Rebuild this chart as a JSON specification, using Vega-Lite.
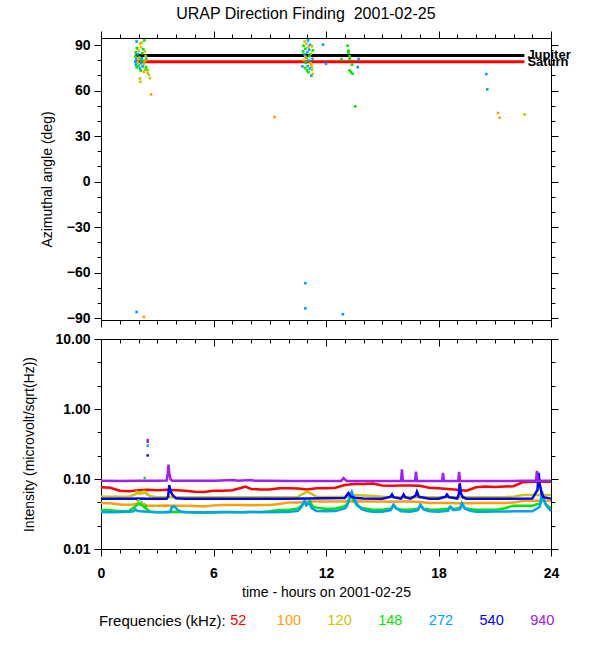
{
  "$schema": "https://vega.github.io/schema/vega-lite/v6.json",
  "background": "white",
  "padding": {"left": 22, "top": 5, "right": 5, "bottom": 5},
  "title": {"text": "URAP Direction Finding \u00a02001-02-25", "fontSize": 16, "fontWeight": "normal", "font": "Liberation Sans", "color": "black", "anchor": "middle", "offset": 9, "dx": 9},
  "spacing": 4,
  "datasets": {
    "planets": [
      {"name": "Jupiter", "t0": 1.83, "t1": 22.58, "a": 83.2},
      {"name": "Saturn", "t0": 1.83, "t1": 22.58, "a": 79.1}
    ],
    "angles": [
      {"t": 1.90, "a": 92.4, "f": "272"}, {"t": 2.31, "a": 93.1, "f": "148"}, {"t": 2.08, "a": 90.9, "f": "120"},
      {"t": 2.17, "a": 91.5, "f": "120"}, {"t": 1.92, "a": 88.0, "f": "148"}, {"t": 2.13, "a": 88.6, "f": "120"},
      {"t": 2.26, "a": 87.3, "f": "148"}, {"t": 2.00, "a": 86.4, "f": "120"}, {"t": 1.85, "a": 85.2, "f": "148"},
      {"t": 1.97, "a": 84.1, "f": "272"}, {"t": 2.20, "a": 84.6, "f": "148"}, {"t": 2.33, "a": 85.8, "f": "120"},
      {"t": 1.84, "a": 82.5, "f": "148"}, {"t": 2.05, "a": 82.0, "f": "148"}, {"t": 2.38, "a": 82.8, "f": "120"},
      {"t": 1.88, "a": 80.6, "f": "272"}, {"t": 2.10, "a": 80.2, "f": "148"}, {"t": 2.25, "a": 79.5, "f": "148"},
      {"t": 2.42, "a": 80.9, "f": "148"}, {"t": 1.95, "a": 78.6, "f": "120"}, {"t": 2.15, "a": 78.0, "f": "272"},
      {"t": 2.30, "a": 77.8, "f": "120"}, {"t": 1.86, "a": 77.1, "f": "272"}, {"t": 2.02, "a": 76.5, "f": "148"},
      {"t": 2.22, "a": 76.0, "f": "272"}, {"t": 2.40, "a": 75.6, "f": "148"}, {"t": 1.90, "a": 75.3, "f": "148"},
      {"t": 2.07, "a": 74.6, "f": "272"}, {"t": 2.35, "a": 74.0, "f": "120"}, {"t": 2.43, "a": 73.8, "f": "148"},
      {"t": 2.12, "a": 73.2, "f": "148"}, {"t": 2.50, "a": 73.5, "f": "120"}, {"t": 2.48, "a": 71.8, "f": "120"},
      {"t": 2.56, "a": 70.5, "f": "120"}, {"t": 2.28, "a": 72.4, "f": "100"}, {"t": 2.61, "a": 68.2, "f": "120"},
      {"t": 2.08, "a": 68.0, "f": "120"}, {"t": 2.10, "a": 65.8, "f": "120"}, {"t": 2.67, "a": 57.5, "f": "100"},
      {"t": 2.00, "a": 81.5, "f": "100"}, {"t": 2.36, "a": 79.8, "f": "100"}, {"t": 1.83, "a": 79.0, "f": "272"},
      {"t": 2.18, "a": 81.2, "f": "272"},
      {"t": 10.86, "a": 92.4, "f": "120"}, {"t": 11.04, "a": 93.1, "f": "272"}, {"t": 10.95, "a": 91.0, "f": "120"},
      {"t": 11.15, "a": 90.2, "f": "272"}, {"t": 10.80, "a": 89.6, "f": "148"}, {"t": 11.05, "a": 88.8, "f": "120"},
      {"t": 11.25, "a": 89.2, "f": "120"}, {"t": 10.90, "a": 87.6, "f": "148"}, {"t": 11.10, "a": 87.0, "f": "272"},
      {"t": 11.30, "a": 86.5, "f": "148"}, {"t": 10.78, "a": 85.8, "f": "148"}, {"t": 11.00, "a": 85.2, "f": "272"},
      {"t": 11.20, "a": 84.4, "f": "120"}, {"t": 10.85, "a": 83.9, "f": "272"}, {"t": 11.12, "a": 82.8, "f": "148"},
      {"t": 10.96, "a": 81.6, "f": "148"}, {"t": 11.28, "a": 81.0, "f": "272"}, {"t": 10.82, "a": 80.2, "f": "120"},
      {"t": 11.08, "a": 79.8, "f": "272"}, {"t": 10.92, "a": 78.4, "f": "148"}, {"t": 11.18, "a": 78.0, "f": "120"},
      {"t": 10.74, "a": 76.0, "f": "272"}, {"t": 11.02, "a": 76.2, "f": "272"}, {"t": 11.24, "a": 75.8, "f": "120"},
      {"t": 10.88, "a": 75.0, "f": "148"}, {"t": 11.14, "a": 74.6, "f": "272"}, {"t": 10.98, "a": 73.4, "f": "148"},
      {"t": 11.26, "a": 73.8, "f": "120"}, {"t": 11.06, "a": 72.2, "f": "148"}, {"t": 11.22, "a": 69.8, "f": "272"},
      {"t": 11.30, "a": 71.0, "f": "120"}, {"t": 10.90, "a": 82.4, "f": "100"}, {"t": 11.20, "a": 77.0, "f": "100"},
      {"t": 11.84, "a": 90.3, "f": "272"}, {"t": 12.00, "a": 77.7, "f": "272"},
      {"t": 13.15, "a": 89.6, "f": "148"}, {"t": 13.20, "a": 86.3, "f": "148"}, {"t": 13.20, "a": 85.2, "f": "148"},
      {"t": 13.26, "a": 82.6, "f": "148"}, {"t": 12.82, "a": 80.8, "f": "148"}, {"t": 13.26, "a": 80.9, "f": "148"},
      {"t": 13.39, "a": 77.1, "f": "148"}, {"t": 13.26, "a": 73.3, "f": "148"}, {"t": 13.33, "a": 72.2, "f": "148"},
      {"t": 13.42, "a": 71.1, "f": "148"}, {"t": 13.56, "a": 49.6, "f": "148"}, {"t": 13.74, "a": 80.8, "f": "272"},
      {"t": 13.69, "a": 75.5, "f": "272"},
      {"t": 9.26, "a": 42.5, "f": "100"}, {"t": 20.55, "a": 70.9, "f": "272"}, {"t": 20.60, "a": 60.8, "f": "272"},
      {"t": 21.17, "a": 45.2, "f": "100"}, {"t": 21.26, "a": 42.1, "f": "100"}, {"t": 22.59, "a": 44.3, "f": "120"},
      {"t": 1.90, "a": -86.0, "f": "272"}, {"t": 2.29, "a": -89.3, "f": "100"}, {"t": 10.90, "a": -67.0, "f": "272"},
      {"t": 10.90, "a": -83.6, "f": "272"}, {"t": 12.90, "a": -87.5, "f": "272"}
    ],
    "intensity": [
      {"t": 0, "f": "52", "v": 0.076}, {"t": 0.5, "f": "52", "v": 0.075}, {"t": 1, "f": "52", "v": 0.068}, {"t": 1.5, "f": "52", "v": 0.067},
      {"t": 2, "f": "52", "v": 0.069}, {"t": 2.5, "f": "52", "v": 0.070}, {"t": 3, "f": "52", "v": 0.069}, {"t": 3.5, "f": "52", "v": 0.070},
      {"t": 4, "f": "52", "v": 0.069}, {"t": 4.5, "f": "52", "v": 0.068}, {"t": 5, "f": "52", "v": 0.066}, {"t": 5.5, "f": "52", "v": 0.065},
      {"t": 6, "f": "52", "v": 0.068}, {"t": 6.5, "f": "52", "v": 0.068}, {"t": 7, "f": "52", "v": 0.069}, {"t": 7.5, "f": "52", "v": 0.075},
      {"t": 7.7, "f": "52", "v": 0.078}, {"t": 8, "f": "52", "v": 0.072}, {"t": 8.5, "f": "52", "v": 0.071}, {"t": 9, "f": "52", "v": 0.071},
      {"t": 9.5, "f": "52", "v": 0.074}, {"t": 10, "f": "52", "v": 0.074}, {"t": 10.5, "f": "52", "v": 0.073}, {"t": 11, "f": "52", "v": 0.071},
      {"t": 11.5, "f": "52", "v": 0.074}, {"t": 12, "f": "52", "v": 0.074}, {"t": 12.5, "f": "52", "v": 0.075}, {"t": 13, "f": "52", "v": 0.082},
      {"t": 13.5, "f": "52", "v": 0.085}, {"t": 14, "f": "52", "v": 0.085}, {"t": 14.5, "f": "52", "v": 0.086}, {"t": 15, "f": "52", "v": 0.081},
      {"t": 15.5, "f": "52", "v": 0.080}, {"t": 16, "f": "52", "v": 0.081}, {"t": 16.5, "f": "52", "v": 0.081}, {"t": 17, "f": "52", "v": 0.080},
      {"t": 17.5, "f": "52", "v": 0.075}, {"t": 18, "f": "52", "v": 0.074}, {"t": 18.5, "f": "52", "v": 0.072}, {"t": 19, "f": "52", "v": 0.070},
      {"t": 19.5, "f": "52", "v": 0.068}, {"t": 20, "f": "52", "v": 0.076}, {"t": 20.5, "f": "52", "v": 0.078}, {"t": 21, "f": "52", "v": 0.077},
      {"t": 21.5, "f": "52", "v": 0.078}, {"t": 22, "f": "52", "v": 0.079}, {"t": 22.5, "f": "52", "v": 0.090}, {"t": 23, "f": "52", "v": 0.091},
      {"t": 23.5, "f": "52", "v": 0.091}, {"t": 24, "f": "52", "v": 0.091},

      {"t": 0, "f": "100", "v": 0.0454}, {"t": 0.5, "f": "100", "v": 0.0450}, {"t": 1, "f": "100", "v": 0.0432}, {"t": 1.5, "f": "100", "v": 0.0428},
      {"t": 2, "f": "100", "v": 0.0440}, {"t": 2.5, "f": "100", "v": 0.0416}, {"t": 3, "f": "100", "v": 0.0416}, {"t": 3.5, "f": "100", "v": 0.0418},
      {"t": 4, "f": "100", "v": 0.0416}, {"t": 4.5, "f": "100", "v": 0.0416}, {"t": 5, "f": "100", "v": 0.0410}, {"t": 5.5, "f": "100", "v": 0.0406},
      {"t": 6, "f": "100", "v": 0.0420}, {"t": 6.5, "f": "100", "v": 0.0425}, {"t": 7, "f": "100", "v": 0.0425}, {"t": 7.5, "f": "100", "v": 0.0425},
      {"t": 8, "f": "100", "v": 0.0422}, {"t": 8.5, "f": "100", "v": 0.0425}, {"t": 9, "f": "100", "v": 0.0425}, {"t": 9.5, "f": "100", "v": 0.0440},
      {"t": 10, "f": "100", "v": 0.0460}, {"t": 10.5, "f": "100", "v": 0.0460}, {"t": 11, "f": "100", "v": 0.0478}, {"t": 11.5, "f": "100", "v": 0.0478},
      {"t": 12, "f": "100", "v": 0.0478}, {"t": 12.5, "f": "100", "v": 0.0478}, {"t": 13, "f": "100", "v": 0.0478}, {"t": 13.5, "f": "100", "v": 0.0482},
      {"t": 14, "f": "100", "v": 0.0478}, {"t": 14.5, "f": "100", "v": 0.0478}, {"t": 15, "f": "100", "v": 0.0478}, {"t": 15.5, "f": "100", "v": 0.0475},
      {"t": 16, "f": "100", "v": 0.0478}, {"t": 16.5, "f": "100", "v": 0.0478}, {"t": 17, "f": "100", "v": 0.0470}, {"t": 17.5, "f": "100", "v": 0.0454},
      {"t": 18, "f": "100", "v": 0.0454}, {"t": 18.5, "f": "100", "v": 0.0454}, {"t": 19, "f": "100", "v": 0.0450}, {"t": 19.5, "f": "100", "v": 0.0450},
      {"t": 20, "f": "100", "v": 0.0454}, {"t": 20.5, "f": "100", "v": 0.0454}, {"t": 21, "f": "100", "v": 0.0454}, {"t": 21.5, "f": "100", "v": 0.0454},
      {"t": 22, "f": "100", "v": 0.0460}, {"t": 22.5, "f": "100", "v": 0.0490}, {"t": 23, "f": "100", "v": 0.0490}, {"t": 23.5, "f": "100", "v": 0.0490},
      {"t": 24, "f": "100", "v": 0.0490},

      {"t": 0, "f": "120", "v": 0.0564}, {"t": 0.5, "f": "120", "v": 0.0560}, {"t": 1, "f": "120", "v": 0.0558}, {"t": 1.5, "f": "120", "v": 0.0560},
      {"t": 1.8, "f": "120", "v": 0.0600}, {"t": 2.0, "f": "120", "v": 0.0640}, {"t": 2.2, "f": "120", "v": 0.0620}, {"t": 2.4, "f": "120", "v": 0.0640},
      {"t": 2.6, "f": "120", "v": 0.0570}, {"t": 3, "f": "120", "v": 0.0547}, {"t": 4, "f": "120", "v": 0.0547}, {"t": 5, "f": "120", "v": 0.0547},
      {"t": 6, "f": "120", "v": 0.0547}, {"t": 7, "f": "120", "v": 0.0550}, {"t": 8, "f": "120", "v": 0.0547}, {"t": 9, "f": "120", "v": 0.0550},
      {"t": 10, "f": "120", "v": 0.0550}, {"t": 10.5, "f": "120", "v": 0.0555}, {"t": 10.7, "f": "120", "v": 0.0600}, {"t": 10.9, "f": "120", "v": 0.0640},
      {"t": 11.0, "f": "120", "v": 0.0660}, {"t": 11.2, "f": "120", "v": 0.0620}, {"t": 11.4, "f": "120", "v": 0.0580}, {"t": 11.5, "f": "120", "v": 0.0560},
      {"t": 12, "f": "120", "v": 0.0555}, {"t": 12.5, "f": "120", "v": 0.0555}, {"t": 13, "f": "120", "v": 0.0555}, {"t": 13.5, "f": "120", "v": 0.0590},
      {"t": 14, "f": "120", "v": 0.0580}, {"t": 14.5, "f": "120", "v": 0.0570}, {"t": 15, "f": "120", "v": 0.0560}, {"t": 15.5, "f": "120", "v": 0.0550},
      {"t": 16, "f": "120", "v": 0.0547}, {"t": 17, "f": "120", "v": 0.0547}, {"t": 18, "f": "120", "v": 0.0547}, {"t": 19, "f": "120", "v": 0.0547},
      {"t": 20, "f": "120", "v": 0.0547}, {"t": 21, "f": "120", "v": 0.0547}, {"t": 21.5, "f": "120", "v": 0.0550}, {"t": 22, "f": "120", "v": 0.0560},
      {"t": 22.5, "f": "120", "v": 0.0590}, {"t": 23, "f": "120", "v": 0.0590}, {"t": 23.5, "f": "120", "v": 0.0590}, {"t": 24, "f": "120", "v": 0.0590},

      {"t": 0, "f": "148", "v": 0.0361}, {"t": 0.5, "f": "148", "v": 0.0358}, {"t": 1, "f": "148", "v": 0.0345}, {"t": 1.5, "f": "148", "v": 0.0350},
      {"t": 1.8, "f": "148", "v": 0.0400}, {"t": 2.0, "f": "148", "v": 0.0450}, {"t": 2.2, "f": "148", "v": 0.0420}, {"t": 2.4, "f": "148", "v": 0.0380},
      {"t": 2.6, "f": "148", "v": 0.0340}, {"t": 3, "f": "148", "v": 0.0335}, {"t": 3.5, "f": "148", "v": 0.0335}, {"t": 4, "f": "148", "v": 0.0340},
      {"t": 4.5, "f": "148", "v": 0.0335}, {"t": 5, "f": "148", "v": 0.0333}, {"t": 5.5, "f": "148", "v": 0.0330}, {"t": 6, "f": "148", "v": 0.0333},
      {"t": 6.5, "f": "148", "v": 0.0335}, {"t": 7, "f": "148", "v": 0.0335}, {"t": 7.5, "f": "148", "v": 0.0335}, {"t": 8, "f": "148", "v": 0.0338},
      {"t": 8.5, "f": "148", "v": 0.0335}, {"t": 9, "f": "148", "v": 0.0345}, {"t": 9.5, "f": "148", "v": 0.0360}, {"t": 10, "f": "148", "v": 0.0362},
      {"t": 10.5, "f": "148", "v": 0.0380}, {"t": 10.7, "f": "148", "v": 0.0420}, {"t": 10.85, "f": "148", "v": 0.0480}, {"t": 11.0, "f": "148", "v": 0.0440},
      {"t": 11.15, "f": "148", "v": 0.0480}, {"t": 11.3, "f": "148", "v": 0.0400}, {"t": 11.5, "f": "148", "v": 0.0390}, {"t": 12, "f": "148", "v": 0.0372},
      {"t": 12.5, "f": "148", "v": 0.0380}, {"t": 13, "f": "148", "v": 0.0410}, {"t": 13.15, "f": "148", "v": 0.0450}, {"t": 13.3, "f": "148", "v": 0.0600},
      {"t": 13.45, "f": "148", "v": 0.0500}, {"t": 13.65, "f": "148", "v": 0.0420}, {"t": 13.9, "f": "148", "v": 0.0385}, {"t": 14.5, "f": "148", "v": 0.0365},
      {"t": 15, "f": "148", "v": 0.0365}, {"t": 15.5, "f": "148", "v": 0.0380}, {"t": 15.6, "f": "148", "v": 0.0420}, {"t": 15.75, "f": "148", "v": 0.0380},
      {"t": 16, "f": "148", "v": 0.0368}, {"t": 16.5, "f": "148", "v": 0.0365}, {"t": 16.95, "f": "148", "v": 0.0380}, {"t": 17.05, "f": "148", "v": 0.0420},
      {"t": 17.2, "f": "148", "v": 0.0375}, {"t": 17.5, "f": "148", "v": 0.0368}, {"t": 18, "f": "148", "v": 0.0365}, {"t": 18.5, "f": "148", "v": 0.0375},
      {"t": 18.63, "f": "148", "v": 0.0400}, {"t": 18.8, "f": "148", "v": 0.0370}, {"t": 19.15, "f": "148", "v": 0.0390}, {"t": 19.25, "f": "148", "v": 0.0430},
      {"t": 19.4, "f": "148", "v": 0.0380}, {"t": 20, "f": "148", "v": 0.0365}, {"t": 20.5, "f": "148", "v": 0.0365}, {"t": 21, "f": "148", "v": 0.0365},
      {"t": 21.5, "f": "148", "v": 0.0380}, {"t": 22, "f": "148", "v": 0.0416}, {"t": 22.5, "f": "148", "v": 0.0416}, {"t": 23, "f": "148", "v": 0.0416},
      {"t": 23.45, "f": "148", "v": 0.0450}, {"t": 23.55, "f": "148", "v": 0.0550}, {"t": 23.7, "f": "148", "v": 0.0440}, {"t": 24, "f": "148", "v": 0.0380},

      {"t": 0, "f": "272", "v": 0.0338}, {"t": 0.5, "f": "272", "v": 0.0336}, {"t": 1, "f": "272", "v": 0.0338}, {"t": 1.5, "f": "272", "v": 0.0340},
      {"t": 1.75, "f": "272", "v": 0.0345}, {"t": 1.83, "f": "272", "v": 0.0370}, {"t": 1.95, "f": "272", "v": 0.0350}, {"t": 2.5, "f": "272", "v": 0.0340},
      {"t": 3, "f": "272", "v": 0.0336}, {"t": 3.5, "f": "272", "v": 0.0338}, {"t": 3.7, "f": "272", "v": 0.0338}, {"t": 3.78, "f": "272", "v": 0.0400},
      {"t": 3.9, "f": "272", "v": 0.0410}, {"t": 4.1, "f": "272", "v": 0.0360}, {"t": 4.3, "f": "272", "v": 0.0340}, {"t": 4.5, "f": "272", "v": 0.0338},
      {"t": 5, "f": "272", "v": 0.0336}, {"t": 5.5, "f": "272", "v": 0.0335}, {"t": 6, "f": "272", "v": 0.0336}, {"t": 6.5, "f": "272", "v": 0.0338},
      {"t": 7, "f": "272", "v": 0.0338}, {"t": 7.5, "f": "272", "v": 0.0336}, {"t": 8, "f": "272", "v": 0.0338}, {"t": 8.5, "f": "272", "v": 0.0338},
      {"t": 9, "f": "272", "v": 0.0336}, {"t": 9.5, "f": "272", "v": 0.0338}, {"t": 10, "f": "272", "v": 0.0338}, {"t": 10.5, "f": "272", "v": 0.0350},
      {"t": 10.7, "f": "272", "v": 0.0400}, {"t": 10.85, "f": "272", "v": 0.0480}, {"t": 10.95, "f": "272", "v": 0.0420}, {"t": 11.1, "f": "272", "v": 0.0460},
      {"t": 11.25, "f": "272", "v": 0.0380}, {"t": 11.5, "f": "272", "v": 0.0350}, {"t": 12, "f": "272", "v": 0.0345}, {"t": 12.5, "f": "272", "v": 0.0348},
      {"t": 13, "f": "272", "v": 0.0380}, {"t": 13.1, "f": "272", "v": 0.0400}, {"t": 13.25, "f": "272", "v": 0.0520}, {"t": 13.38, "f": "272", "v": 0.0650},
      {"t": 13.5, "f": "272", "v": 0.0520}, {"t": 13.7, "f": "272", "v": 0.0420}, {"t": 13.9, "f": "272", "v": 0.0370}, {"t": 14.2, "f": "272", "v": 0.0350},
      {"t": 14.5, "f": "272", "v": 0.0340}, {"t": 15, "f": "272", "v": 0.0340}, {"t": 15.45, "f": "272", "v": 0.0360}, {"t": 15.6, "f": "272", "v": 0.0430},
      {"t": 15.75, "f": "272", "v": 0.0380}, {"t": 16, "f": "272", "v": 0.0345}, {"t": 16.5, "f": "272", "v": 0.0340}, {"t": 16.9, "f": "272", "v": 0.0360},
      {"t": 17.03, "f": "272", "v": 0.0430}, {"t": 17.2, "f": "272", "v": 0.0370}, {"t": 17.5, "f": "272", "v": 0.0345}, {"t": 18, "f": "272", "v": 0.0340},
      {"t": 18.5, "f": "272", "v": 0.0350}, {"t": 18.63, "f": "272", "v": 0.0400}, {"t": 18.8, "f": "272", "v": 0.0360}, {"t": 19.15, "f": "272", "v": 0.0370},
      {"t": 19.25, "f": "272", "v": 0.0450}, {"t": 19.4, "f": "272", "v": 0.0380}, {"t": 19.7, "f": "272", "v": 0.0350}, {"t": 20, "f": "272", "v": 0.0340},
      {"t": 20.5, "f": "272", "v": 0.0340}, {"t": 21, "f": "272", "v": 0.0342}, {"t": 21.5, "f": "272", "v": 0.0342}, {"t": 22, "f": "272", "v": 0.0345},
      {"t": 22.5, "f": "272", "v": 0.0345}, {"t": 23, "f": "272", "v": 0.0345}, {"t": 23.4, "f": "272", "v": 0.0400}, {"t": 23.52, "f": "272", "v": 0.0660},
      {"t": 23.65, "f": "272", "v": 0.0480}, {"t": 23.8, "f": "272", "v": 0.0400}, {"t": 24, "f": "272", "v": 0.0350},

      {"t": 0, "f": "540", "v": 0.0524}, {"t": 0.5, "f": "540", "v": 0.0522}, {"t": 1, "f": "540", "v": 0.0524}, {"t": 1.5, "f": "540", "v": 0.0524},
      {"t": 2, "f": "540", "v": 0.0526}, {"t": 2.5, "f": "540", "v": 0.0524}, {"t": 3, "f": "540", "v": 0.0522}, {"t": 3.5, "f": "540", "v": 0.0524},
      {"t": 3.58, "f": "540", "v": 0.056}, {"t": 3.64, "f": "540", "v": 0.082}, {"t": 3.7, "f": "540", "v": 0.068}, {"t": 3.8, "f": "540", "v": 0.060},
      {"t": 3.9, "f": "540", "v": 0.056}, {"t": 4.0, "f": "540", "v": 0.053}, {"t": 4.5, "f": "540", "v": 0.0524}, {"t": 5, "f": "540", "v": 0.0524},
      {"t": 6, "f": "540", "v": 0.0522}, {"t": 7, "f": "540", "v": 0.0524}, {"t": 8, "f": "540", "v": 0.0524}, {"t": 9, "f": "540", "v": 0.0522},
      {"t": 10, "f": "540", "v": 0.0524}, {"t": 11, "f": "540", "v": 0.0526}, {"t": 12, "f": "540", "v": 0.0530}, {"t": 13, "f": "540", "v": 0.0535},
      {"t": 13.1, "f": "540", "v": 0.058}, {"t": 13.2, "f": "540", "v": 0.063}, {"t": 13.3, "f": "540", "v": 0.057}, {"t": 13.5, "f": "540", "v": 0.054},
      {"t": 14, "f": "540", "v": 0.0526}, {"t": 15, "f": "540", "v": 0.0524}, {"t": 15.45, "f": "540", "v": 0.056}, {"t": 15.52, "f": "540", "v": 0.060},
      {"t": 15.6, "f": "540", "v": 0.055}, {"t": 16, "f": "540", "v": 0.0524}, {"t": 16.08, "f": "540", "v": 0.056}, {"t": 16.14, "f": "540", "v": 0.060},
      {"t": 16.22, "f": "540", "v": 0.055}, {"t": 16.5, "f": "540", "v": 0.0524}, {"t": 16.78, "f": "540", "v": 0.058}, {"t": 16.85, "f": "540", "v": 0.066},
      {"t": 16.95, "f": "540", "v": 0.056}, {"t": 17.5, "f": "540", "v": 0.0524}, {"t": 18, "f": "540", "v": 0.0524}, {"t": 18.38, "f": "540", "v": 0.056},
      {"t": 18.45, "f": "540", "v": 0.060}, {"t": 18.55, "f": "540", "v": 0.055}, {"t": 19.0, "f": "540", "v": 0.0526}, {"t": 19.08, "f": "540", "v": 0.060},
      {"t": 19.13, "f": "540", "v": 0.087}, {"t": 19.2, "f": "540", "v": 0.062}, {"t": 19.3, "f": "540", "v": 0.055}, {"t": 19.5, "f": "540", "v": 0.0524},
      {"t": 20, "f": "540", "v": 0.0524}, {"t": 21, "f": "540", "v": 0.0524}, {"t": 22, "f": "540", "v": 0.0524}, {"t": 23, "f": "540", "v": 0.0526},
      {"t": 23.28, "f": "540", "v": 0.070}, {"t": 23.34, "f": "540", "v": 0.122}, {"t": 23.4, "f": "540", "v": 0.085}, {"t": 23.5, "f": "540", "v": 0.062},
      {"t": 23.6, "f": "540", "v": 0.055}, {"t": 24, "f": "540", "v": 0.0524},

      {"t": 0, "f": "940", "v": 0.0946}, {"t": 1, "f": "940", "v": 0.0940}, {"t": 2, "f": "940", "v": 0.0946}, {"t": 3, "f": "940", "v": 0.0946},
      {"t": 3.5, "f": "940", "v": 0.0950}, {"t": 3.56, "f": "940", "v": 0.120}, {"t": 3.6, "f": "940", "v": 0.160}, {"t": 3.64, "f": "940", "v": 0.125},
      {"t": 3.7, "f": "940", "v": 0.100}, {"t": 3.8, "f": "940", "v": 0.0946}, {"t": 5, "f": "940", "v": 0.0946}, {"t": 6, "f": "940", "v": 0.0946},
      {"t": 7.1, "f": "940", "v": 0.0970}, {"t": 7.3, "f": "940", "v": 0.0946}, {"t": 8.0, "f": "940", "v": 0.0970}, {"t": 8.2, "f": "940", "v": 0.0946},
      {"t": 9, "f": "940", "v": 0.0946}, {"t": 10, "f": "940", "v": 0.0940}, {"t": 10.8, "f": "940", "v": 0.0935}, {"t": 12, "f": "940", "v": 0.0935},
      {"t": 12.8, "f": "940", "v": 0.0935}, {"t": 12.94, "f": "940", "v": 0.1030}, {"t": 13.1, "f": "940", "v": 0.0935}, {"t": 14, "f": "940", "v": 0.0935},
      {"t": 15, "f": "940", "v": 0.0940}, {"t": 16.0, "f": "940", "v": 0.0940}, {"t": 16.05, "f": "940", "v": 0.137}, {"t": 16.1, "f": "940", "v": 0.0940},
      {"t": 16.75, "f": "940", "v": 0.0940}, {"t": 16.8, "f": "940", "v": 0.127}, {"t": 16.85, "f": "940", "v": 0.0940}, {"t": 18.19, "f": "940", "v": 0.0935},
      {"t": 18.24, "f": "940", "v": 0.122}, {"t": 18.29, "f": "940", "v": 0.0935}, {"t": 19.05, "f": "940", "v": 0.0935}, {"t": 19.1, "f": "940", "v": 0.126},
      {"t": 19.15, "f": "940", "v": 0.0935}, {"t": 20, "f": "940", "v": 0.0935}, {"t": 21, "f": "940", "v": 0.0935}, {"t": 22, "f": "940", "v": 0.0935},
      {"t": 22.5, "f": "940", "v": 0.0946}, {"t": 23.2, "f": "940", "v": 0.0946}, {"t": 23.25, "f": "940", "v": 0.131}, {"t": 23.3, "f": "940", "v": 0.0946},
      {"t": 24, "f": "940", "v": 0.0946}
    ],
    "dots": [
      {"t": 2.49, "f": "940", "v": 0.36}, {"t": 2.49, "f": "940", "v": 0.34}, {"t": 2.49, "f": "272", "v": 0.30},
      {"t": 2.49, "f": "540", "v": 0.217}, {"t": 2.33, "f": "148", "v": 0.103},
      {"t": 1.9, "f": "120", "v": 0.066}, {"t": 2.05, "f": "120", "v": 0.061}, {"t": 2.3, "f": "120", "v": 0.067},
      {"t": 2.45, "f": "120", "v": 0.060}, {"t": 2.0, "f": "148", "v": 0.050}, {"t": 2.15, "f": "148", "v": 0.046},
      {"t": 2.3, "f": "100", "v": 0.044}, {"t": 1.95, "f": "100", "v": 0.048}, {"t": 2.4, "f": "148", "v": 0.041}
    ],
    "freqs": [
      {"f": "52"}, {"f": "100"}, {"f": "120"}, {"f": "148"}, {"f": "272"}, {"f": "540"}, {"f": "940"}
    ]
  },
  "vconcat": [
    {
      "width": 450,
      "height": 282,
      "layer": [
        {
          "data": {"name": "planets"},
          "mark": {"type": "rule", "strokeWidth": 3},
          "encoding": {
            "x": {"field": "t0", "type": "quantitative", "scale": {"domain": [0, 24], "nice": false},
              "axis": {"orient": "bottom", "values": [0,1,2,3,4,5,6,7,8,9,10,11,12,13,14,15,16,17,18,19,20,21,22,23,24], "labels": false, "title": null,
                "tickSize": {"condition": {"test": "datum.value % 6 === 0", "value": 7}, "value": 4}}},
            "x2": {"field": "t1"},
            "y": {"field": "a", "type": "quantitative", "scale": {"domain": [-91.3, 94.7], "nice": false, "zero": false},
              "axis": {"orient": "left", "values": [-90,-80,-70,-60,-50,-40,-30,-20,-10,0,10,20,30,40,50,60,70,80,90],
                "labelExpr": "datum.value % 30 === 0 ? datum.label : ''", "title": "Azimuthal angle (deg)", "titlePadding": 12,
                "tickSize": {"condition": {"test": "datum.value % 30 === 0", "value": 7}, "value": 4}}},
            "color": {"field": "name", "type": "nominal", "legend": null,
              "scale": {"domain": ["52","100","120","148","272","540","940","Jupiter","Saturn"],
                "range": ["#ff0000","#ffa000","#c8c800","#00e600","#00a0ff","#0000ff","#a020f0","#000000","#ff0000"]}}
          }
        },
        {
          "data": {"name": "angles"},
          "mark": {"type": "point", "shape": "square", "filled": true, "size": 7, "opacity": 1},
          "encoding": {
            "x": {"field": "t", "type": "quantitative", "scale": {"domain": [0, 24], "nice": false},
              "axis": {"orient": "top", "values": [0,1,2,3,4,5,6,7,8,9,10,11,12,13,14,15,16,17,18,19,20,21,22,23,24], "labels": false, "title": null,
                "tickSize": {"condition": {"test": "datum.value % 6 === 0", "value": 7}, "value": 4}}},
            "y": {"field": "a", "type": "quantitative", "scale": {"domain": [-91.3, 94.7], "nice": false, "zero": false},
              "axis": {"orient": "right", "values": [-90,-80,-70,-60,-50,-40,-30,-20,-10,0,10,20,30,40,50,60,70,80,90], "labels": false, "title": null,
                "tickSize": {"condition": {"test": "datum.value % 30 === 0", "value": 7}, "value": 4}}},
            "color": {"field": "f", "type": "nominal", "legend": null,
              "scale": {"domain": ["52","100","120","148","272","540","940","Jupiter","Saturn"],
                "range": ["#ff0000","#ffa000","#c8c800","#00e600","#00a0ff","#0000ff","#a020f0","#000000","#ff0000"]}}
          }
        },
        {
          "data": {"name": "planets"},
          "mark": {"type": "text", "align": "left", "baseline": "middle", "dx": 3, "fontSize": 13, "fontWeight": "bold", "color": "black"},
          "encoding": {
            "x": {"field": "t1", "type": "quantitative", "axis": null},
            "y": {"field": "a", "type": "quantitative", "axis": null},
            "text": {"field": "name"}
          }
        }
      ],
      "resolve": {"axis": {"x": "independent", "y": "independent"}}
    },
    {
      "width": 450,
      "height": 210,
      "layer": [
        {
          "data": {"name": "intensity"},
          "mark": {"type": "line", "strokeWidth": 2.5},
          "encoding": {
            "x": {"field": "t", "type": "quantitative", "scale": {"domain": [0, 24], "nice": false},
              "axis": {"orient": "bottom", "values": [0,1,2,3,4,5,6,7,8,9,10,11,12,13,14,15,16,17,18,19,20,21,22,23,24],
                "labelExpr": "datum.value % 6 === 0 ? datum.label : ''", "labelPadding": 10, "title": "time - hours on 2001-02-25", "titlePadding": 5,
                "tickSize": {"condition": {"test": "datum.value % 6 === 0", "value": 7}, "value": 4}}},
            "y": {"field": "v", "type": "quantitative", "scale": {"type": "log", "domain": [0.01, 10], "nice": false},
              "axis": {"orient": "left", "values": [0.01, 0.021544, 0.046416, 0.1, 0.21544, 0.46416, 1, 2.1544, 4.6416, 10],
                "labelExpr": "indexof([0.01, 0.1, 1, 10], datum.value) >= 0 ? format(datum.value, '.2f') : ''",
                "title": "Intensity (microvolt/sqrt(Hz))", "titlePadding": 18,
                "tickSize": {"condition": {"test": "indexof([0.01, 0.1, 1, 10], datum.value) >= 0", "value": 7}, "value": 4}}},
            "color": {"field": "f", "type": "nominal", "legend": null,
              "scale": {"domain": ["52","100","120","148","272","540","940","Jupiter","Saturn"],
                "range": ["#ff0000","#ffa000","#c8c800","#00e600","#00a0ff","#0000ff","#a020f0","#000000","#ff0000"]}}
          }
        },
        {
          "data": {"name": "dots"},
          "mark": {"type": "point", "shape": "square", "filled": true, "size": 6, "opacity": 1},
          "encoding": {
            "x": {"field": "t", "type": "quantitative", "scale": {"domain": [0, 24], "nice": false},
              "axis": {"orient": "top", "values": [0,1,2,3,4,5,6,7,8,9,10,11,12,13,14,15,16,17,18,19,20,21,22,23,24], "labels": false, "title": null,
                "tickSize": {"condition": {"test": "datum.value % 6 === 0", "value": -7}, "value": -4}}},
            "y": {"field": "v", "type": "quantitative", "scale": {"type": "log", "domain": [0.01, 10], "nice": false},
              "axis": {"orient": "right", "values": [0.01, 0.021544, 0.046416, 0.1, 0.21544, 0.46416, 1, 2.1544, 4.6416, 10], "labels": false, "title": null,
                "tickSize": {"condition": {"test": "indexof([0.01, 0.1, 1, 10], datum.value) >= 0", "value": 7}, "value": 4}}},
            "color": {"field": "f", "type": "nominal", "legend": null,
              "scale": {"domain": ["52","100","120","148","272","540","940","Jupiter","Saturn"],
                "range": ["#ff0000","#ffa000","#c8c800","#00e600","#00a0ff","#0000ff","#a020f0","#000000","#ff0000"]}}
          }
        }
      ],
      "resolve": {"axis": {"x": "independent", "y": "independent"}}
    },
    {
      "width": 450,
      "height": 36,
      "layer": [
        {
          "data": {"values": [{"label": "Frequencies (kHz):"}]},
          "mark": {"type": "text", "align": "right", "baseline": "middle", "dx": 38, "fontSize": 15, "color": "black"},
          "encoding": {
            "x": {"field": "label", "type": "nominal", "axis": null,
              "scale": {"type": "point", "domain": ["Frequencies (kHz):","52","100","120","148","272","540","940"], "range": [86.6, 441.3], "padding": 0}},
            "text": {"field": "label"}
          }
        },
        {
          "data": {"name": "freqs"},
          "mark": {"type": "text", "align": "center", "baseline": "middle", "fontSize": 14.5},
          "encoding": {
            "x": {"field": "f", "type": "nominal", "axis": null,
              "scale": {"type": "point", "domain": ["Frequencies (kHz):","52","100","120","148","272","540","940"], "range": [86.6, 441.3], "padding": 0}},
            "text": {"field": "f"},
            "color": {"field": "f", "type": "nominal", "legend": null,
              "scale": {"domain": ["52","100","120","148","272","540","940","Jupiter","Saturn"],
                "range": ["#ff0000","#ffa000","#c8c800","#00e600","#00a0ff","#0000ff","#a020f0","#000000","#ff0000"]}}
          }
        }
      ]
    }
  ],
  "config": {
    "view": {"stroke": null},
    "font": "Liberation Sans",
    "axis": {
      "grid": false,
      "domainColor": "black",
      "domainWidth": 1,
      "tickColor": "black",
      "tickWidth": 1,
      "labelColor": "black",
      "labelFont": "Liberation Sans",
      "labelFontSize": 14,
      "labelFontWeight": "bold",
      "labelPadding": 4,
      "labelFlush": false,
      "labelOverlap": false,
      "titleColor": "black",
      "titleFont": "Liberation Sans",
      "titleFontSize": 14,
      "titleFontWeight": "normal"
    },
    "text": {"font": "Liberation Sans"}
  }
}
